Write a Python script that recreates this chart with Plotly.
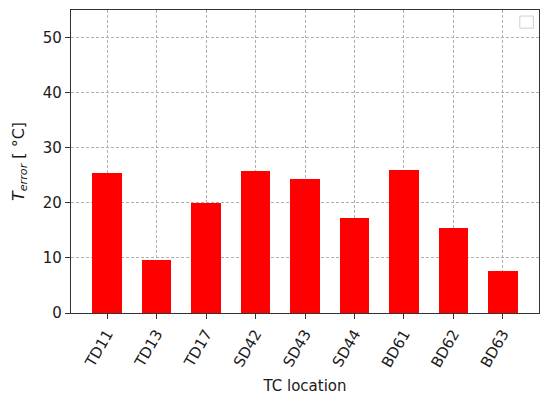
import plotly.graph_objects as go

# данные
locations = ['TD11', 'TD13', 'TD17', 'SD42', 'SD43', 'SD44', 'BD61', 'BD62', 'BD63']
t_error = [25.5, 9.7, 19.9, 25.8, 24.3, 17.2, 26.0, 15.4, 7.6]

font = dict(family='DejaVu Sans', size=15, color='#1a1a1a')

fig = go.Figure(data=[go.Bar(x=list(range(len(locations))), y=t_error,
                             width=0.6, marker=dict(color='#ff0000', line_width=0),
                             showlegend=False)])

grid = dict(showgrid=True, gridcolor='#b0b0b0', griddash='3px,2px', gridwidth=1,
            showline=True, linecolor='#333333', linewidth=1.3, mirror=True,
            ticks='outside', ticklen=5, tickcolor='#333333', zeroline=False,
            automargin=False)

fig.update_xaxes(range=[-0.73, 8.73], tickmode='array', tickvals=list(range(len(locations))),
                 ticktext=locations, tickangle=-60, tickfont=font,
                 title=dict(text='TC location', font=font, standoff=10), **grid)
fig.update_yaxes(range=[0, 55], dtick=10, tickfont=font,
                 title=dict(text='<i>T</i><sub><i>error</i></sub> [ °C]', font=dict(font, size=16),
                            standoff=14), **grid)

# пустая легенда в правом верхнем углу
fig.add_shape(type='rect', xref='paper', yref='paper', x0=0.959, x1=0.988, y0=0.94, y1=0.98,
              line=dict(color='#d0d0d0', width=1), fillcolor='white')

# страница смещает график на 8px (отступ body), поэтому поля уменьшены
fig.update_layout(width=550, height=400, margin=dict(l=63, r=19, t=2, b=95),
                  plot_bgcolor='white', paper_bgcolor='white', font=font, bargap=0)

fig.write_html("out.html")
